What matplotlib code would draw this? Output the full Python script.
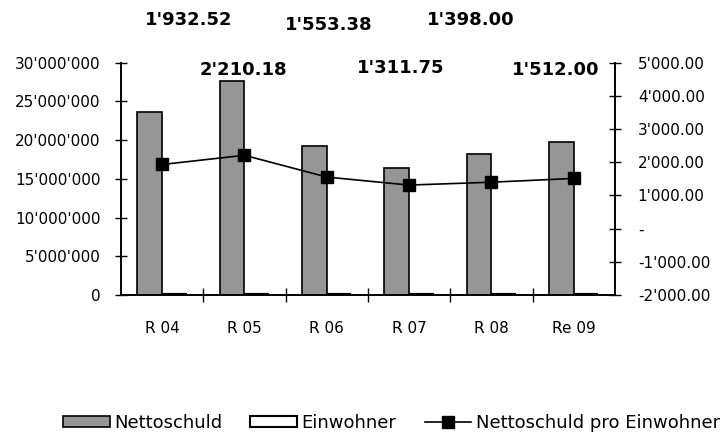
import matplotlib
matplotlib.use("Agg")
import matplotlib.pyplot as plt
import matplotlib.transforms as mtransforms
from matplotlib.ticker import FuncFormatter, MultipleLocator, FixedLocator
import numpy as np

plt.rcParams['font.family'] = ['DejaVu Sans']

# data
categories = ["R 04", "R 05", "R 06", "R 07", "R 08", "Re 09"]
nettoschuld = [23700000, 27600000, 19200000, 16400000, 18200000, 19800000]
einwohner = [12260, 12490, 12360, 12500, 13020, 13100]
pro_einwohner = [1932.52, 2210.18, 1553.38, 1311.75, 1398.00, 1512.00]

# where the data labels sit (x offset in categories, row in figure fraction)
label_dx = [0.32, -0.01, 0.02, -0.10, -0.25, -0.22]
label_row = [0.954, 0.838, 0.942, 0.843, 0.954, 0.838]


def swiss(v, dec=0):
    s = f"{abs(v):,.{dec}f}".replace(",", "'")
    return ("-" if v < 0 else "") + s


fig = plt.figure(figsize=(7.2, 4.33), dpi=100)
ax = fig.add_axes([0.168, 0.319, 0.686, 0.536])
ax2 = ax.twinx()

x = np.arange(len(categories))
w = 0.3
ax.bar(x - w / 2, nettoschuld, w, color="#969696", edgecolor="black",
       linewidth=1.2, label="Nettoschuld", zorder=2)
ax.bar(x + w / 2, einwohner, w, color="white", edgecolor="black",
       linewidth=3, label="Einwohner", zorder=3)
ax2.plot(x, pro_einwohner, color="black", marker="s", markersize=9,
         linewidth=1.2, label="Nettoschuld pro Einwohner", zorder=3)

ax.set_xlim(-0.5, len(categories) - 0.5)
ax.set_ylim(0, 30000000)
ax2.set_ylim(-2000, 5000)
ax.yaxis.set_major_locator(MultipleLocator(5000000))
ax2.yaxis.set_major_locator(MultipleLocator(1000))
ax.yaxis.set_major_formatter(FuncFormatter(lambda v, p: swiss(v)))
ax2.yaxis.set_major_formatter(
    FuncFormatter(lambda v, p: "-" if abs(v) < 1e-9 else swiss(v, 2)))

# category ticks between groups, labels centered
ax.xaxis.set_major_locator(FixedLocator(np.arange(0.5, len(categories) - 0.5, 1)))
ax.xaxis.set_major_formatter(FuncFormatter(lambda v, p: ""))
ax.xaxis.set_minor_locator(FixedLocator(x))
ax.set_xticklabels(categories, minor=True)
ax.tick_params(axis="x", which="major", direction="inout", length=10, width=1)
ax.tick_params(axis="x", which="minor", length=0, pad=19, labelsize=11)

ax.tick_params(axis="y", direction="inout", length=9, width=1, labelsize=11, pad=10)
ax2.tick_params(axis="y", direction="inout", length=9, width=1, labelsize=11, pad=12)

for a in (ax, ax2):
    a.spines["top"].set_visible(False)
    for s in ("left", "right", "bottom"):
        a.spines[s].set_linewidth(1.2)

# data labels above the plot
trans = mtransforms.blended_transform_factory(ax.transData, fig.transFigure)
for i, v in enumerate(pro_einwohner):
    ax2.text(x[i] + label_dx[i], label_row[i], swiss(v, 2), transform=trans,
             ha="center", va="center", fontsize=13, fontweight="bold",
             clip_on=False, zorder=5)

h1, l1 = ax.get_legend_handles_labels()
h2, l2 = ax2.get_legend_handles_labels()
leg = fig.legend(h1 + h2, l1 + l2, loc="center left", bbox_to_anchor=(0.087, 0.024),
                 ncol=3, frameon=False, fontsize=13, handlelength=2.6,
                 handletextpad=0.25, columnspacing=1.55, handleheight=0.55,
                 borderpad=0, borderaxespad=0)
leg.legend_handles[1].set_linewidth(1.5)

fig.savefig("out.png", dpi=100)
